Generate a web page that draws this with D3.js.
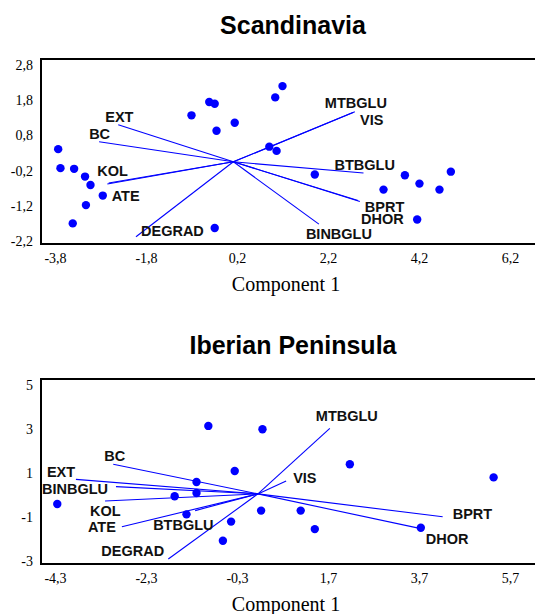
<!DOCTYPE html>
<html>
<head>
<meta charset="utf-8">
<script src="https://cdn.jsdelivr.net/npm/d3@7"></script>
<style>
  html, body { margin: 0; padding: 0; background: #fff; }
  svg { display: block; }
</style>
</head>
<body>
<script>
// ---- Scandinavia: observation scores (Component 1, Component 2)
const scanScoresX = [-3.73, -3.68, -3.38, -3.14, -3.02, -2.75, -3.12, -3.41, -0.80, -0.41, -0.29, 0.15, -0.25, -0.29, 0.91, 1.20, 1.04, 1.07, 1.91, 3.89, 4.21, 4.90, 3.42, 4.65, 4.16];
const scanScoresY = [0.41, -0.13, -0.15, -0.37, -0.61, -0.91, -1.18, -1.70, 1.37, 1.75, 1.70, 1.16, 0.93, -1.83, 0.48, 2.20, 1.88, 0.36, -0.31, -0.33, -0.57, -0.23, -0.74, -0.74, -1.59];

// ---- Scandinavia: variable loadings (vector tips)
const scanVars  = ["EXT", "BC", "KOL", "ATE", "DEGRAD", "MTBGLU", "VIS", "BTBGLU", "BPRT", "DHOR", "BINBGLU"];
const scanVecX  = [-2.41, -2.83, -2.65, -2.62, -2.02, 2.79, 2.75, 2.98, 2.90, 2.86, 2.00];
const scanVecY  = [1.10, 0.62, -0.58, -0.55, -2.08, 1.47, 1.45, -0.27, -1.08, -1.05, -1.72];
const scanOrigin = [0.12, 0.05];
const scanTicksX = [-3.8, -1.8, 0.2, 2.2, 4.2, 6.2];
const scanTicksY = [2.8, 1.8, 0.8, -0.2, -1.2, -2.2];

// ---- Iberian Peninsula: observation scores
const iberScoresX = [-4.25, -0.93, 0.26, -0.35, -1.19, -1.19, -1.67, 0.23, -1.41, -0.43, -0.61, 2.18, 5.34, 1.10, 1.41, 3.74];
const iberScoresY = [-0.41, 3.14, 2.99, 1.09, 0.59, 0.09, -0.06, -0.71, -0.88, -1.21, -2.08, 1.40, 0.80, -0.71, -1.55, -1.49];

// ---- Iberian Peninsula: variable loadings
const iberVars  = ["BC", "EXT", "BINBGLU", "KOL", "ATE", "BTBGLU", "DEGRAD", "MTBGLU", "VIS", "BPRT", "DHOR"];
const iberVecX  = [-3.02, -3.84, -2.96, -3.20, -2.83, -1.22, -1.81, 1.74, 0.78, 4.22, 3.74];
const iberVecY  = [1.40, 0.71, 0.38, -0.27, -1.44, -0.71, -2.91, 3.03, 0.64, -0.99, -1.53];
const iberOrigin = [0.16, 0.05];
const iberTicksX = [-4.3, -2.3, -0.3, 1.7, 3.7, 5.7];
const iberTicksY = [5, 3, 1, -1, -3];

// label placement (pixel offsets from each vector tip)
const scanLabelOffsets = {
  EXT: [-13, -8], BC: [-10, -8], KOL: [-10, -13], ATE: [3, 13], DEGRAD: [5, -6],
  MTBGLU: [-30, -9], VIS: [7, 7.5], BTBGLU: [-29, -8], BPRT: [5, 5], DHOR: [3, 18.5], BINBGLU: [-13, 10]
};
const iberLabelOffsets = {
  BC: [-9, -8], EXT: [-29, -8], BINBGLU: [-74, 2], KOL: [-15, 10], ATE: [-34, 0],
  BTBGLU: [-42, 14], DEGRAD: [-67, -8], MTBGLU: [-14, -13], VIS: [7, -3], BPRT: [10, -3], DHOR: [5, 10]
};

const W = 535, H = 614;
const BLUE = "#0000ff";
const svg = d3.select("body").append("svg").attr("width", W).attr("height", H);

const fmt = v => d3.format(Number.isInteger(v) ? "d" : ".1f")(v).replace(".", ",").replace("−", "-");

function biplot(cfg) {
  const g = svg.append("g");
  const x = d3.scaleLinear().domain(cfg.xDomain).range([55, 510]);
  const y = d3.scaleLinear().domain(cfg.yDomain).range(cfg.yRange);

  // title
  g.append("text")
    .attr("x", 293).attr("y", cfg.titleY)
    .attr("text-anchor", "middle")
    .style("font-family", "'Liberation Sans', Arial, sans-serif")
    .style("font-weight", "bold").style("font-size", "25px")
    .text(cfg.title);

  // frame (open on the right, running off the edge)
  g.append("rect")
    .attr("x", 41).attr("y", cfg.top)
    .attr("width", 500).attr("height", cfg.bottom - cfg.top)
    .attr("fill", "none").attr("stroke", "#000").attr("stroke-width", 2);

  // axes (labels only)
  const xAxis = g.append("g")
    .attr("transform", `translate(0,${cfg.bottom + 3})`)
    .call(d3.axisBottom(x).tickValues(cfg.ticksX).tickSize(0).tickPadding(6).tickFormat(fmt));
  const yAxis = g.append("g")
    .attr("transform", "translate(33,0)")
    .call(d3.axisLeft(y).tickValues(cfg.ticksY).tickSize(0).tickPadding(0).tickFormat(fmt));
  [xAxis, yAxis].forEach(a => {
    a.select(".domain").remove();
    a.selectAll("text")
      .style("font-family", "'Liberation Serif', 'Times New Roman', serif")
      .style("font-size", "14px").attr("fill", "#000");
  });

  // axis title
  g.append("text")
    .attr("x", 286).attr("y", cfg.bottom + 47)
    .attr("text-anchor", "middle")
    .style("font-family", "'Liberation Serif', 'Times New Roman', serif")
    .style("font-size", "20px")
    .text("Component 1");

  // loading vectors
  const vecs = cfg.vars.map((name, i) => ({ name, vx: cfg.vecX[i], vy: cfg.vecY[i] }));
  g.append("g").selectAll("line").data(vecs).join("line")
    .attr("x1", x(cfg.origin[0])).attr("y1", y(cfg.origin[1]))
    .attr("x2", d => x(d.vx)).attr("y2", d => y(d.vy))
    .attr("stroke", BLUE).attr("stroke-width", 1.1);

  // observation points
  const pts = cfg.sx.map((v, i) => ({ vx: v, vy: cfg.sy[i] }));
  g.append("g").selectAll("circle").data(pts).join("circle")
    .attr("cx", d => x(d.vx)).attr("cy", d => y(d.vy))
    .attr("r", 4.2).attr("fill", BLUE);

  // vector labels
  g.append("g").selectAll("text").data(vecs).join("text")
    .attr("x", d => x(d.vx) + cfg.offsets[d.name][0])
    .attr("y", d => y(d.vy) + cfg.offsets[d.name][1])
    .attr("dy", "0.36em")
    .style("font-family", "'Liberation Sans', Arial, sans-serif")
    .style("font-weight", "bold").style("font-size", "14.5px")
    .attr("fill", "#111")
    .text(d => d.name);
}

biplot({
  title: "Scandinavia", titleY: 34,
  top: 59, bottom: 244,
  xDomain: [-3.8, 6.2], yDomain: [2.8, -2.2], yRange: [65, 241],
  ticksX: scanTicksX, ticksY: scanTicksY,
  sx: scanScoresX, sy: scanScoresY,
  vars: scanVars, vecX: scanVecX, vecY: scanVecY, origin: scanOrigin,
  offsets: scanLabelOffsets
});

biplot({
  title: "Iberian Peninsula", titleY: 354,
  top: 379, bottom: 564,
  xDomain: [-4.3, 5.7], yDomain: [5, -3], yRange: [385, 561],
  ticksX: iberTicksX, ticksY: iberTicksY,
  sx: iberScoresX, sy: iberScoresY,
  vars: iberVars, vecX: iberVecX, vecY: iberVecY, origin: iberOrigin,
  offsets: iberLabelOffsets
});
</script>
</body>
</html>
